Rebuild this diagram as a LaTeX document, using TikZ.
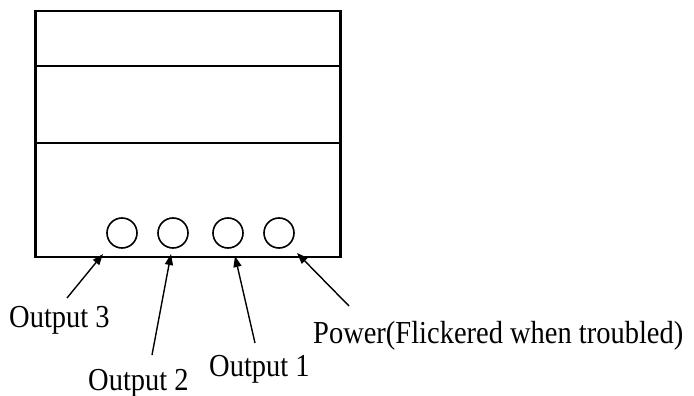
\documentclass[tikz,border=0pt]{standalone}
\usepackage{fontspec}
\setmainfont{Liberation Serif}
\usetikzlibrary{arrows.meta}
\newcommand{\narrowtext}[1]{\scalebox{0.89}[1]{#1}}
\begin{document}
\begin{tikzpicture}[x=1pt,y=-1pt,
  frame/.style={draw=black,line width=2.2pt},
  band/.style={draw=black,line width=1.6pt},
  lamp/.style={circle,draw=black,line width=1.6pt,minimum size=30pt,inner sep=0pt},
  lbl/.style={font=\fontsize{32}{32}\selectfont,inner sep=0pt,anchor=base west},
  pointer/.style={draw=black,line width=1.4pt,-{Triangle[length=11pt,width=8pt]}}]
\useasboundingbox (0,0) rectangle (694,396);
% housing and front band
\draw[frame] (35.5,11) rectangle (340.5,257);
\draw[band] (35,66) rectangle (340,143);
% indicator lamps
\node[lamp] (l3) at (122,233) {};
\node[lamp] (l2) at (173,233) {};
\node[lamp] (l1) at (228,233) {};
\node[lamp] (lp) at (279,233) {};
% labels
\node[lbl] (o3) at (9,327) {\narrowtext{Output 3}};
\node[lbl] (o2) at (88,390) {\narrowtext{Output 2}};
\node[lbl] (o1) at (209,376) {\narrowtext{Output 1}};
\node[lbl] (pw) at (313,343) {\narrowtext{Power(Flickered when troubled)}};
% arrow ends
\coordinate (t3) at (103,254);
\coordinate (t2) at (171,254);
\coordinate (t1) at (235,256);
\coordinate (tp) at (297,253);
\coordinate (s3) at (67,298);
\coordinate (s2) at (152,355);
\coordinate (s1) at (255,343);
\coordinate (sp) at (349,306);
\draw[pointer] (s3) -- (t3);
\draw[pointer] (s2) -- (t2);
\draw[pointer] (s1) -- (t1);
\draw[pointer] (sp) -- (tp);
\end{tikzpicture}
\end{document}
